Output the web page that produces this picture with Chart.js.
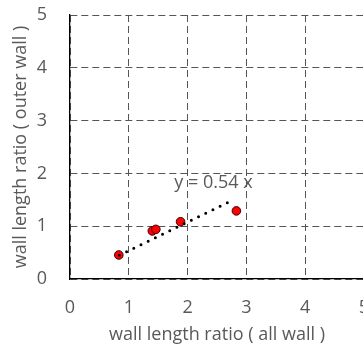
<!DOCTYPE html>
<html>
<head>
<meta charset="utf-8">
<script src="https://cdn.jsdelivr.net/npm/chart.js@4"></script>
<style>
  body { margin: 0; background: #fff; }
  #wrap { width: 363px; height: 349px; overflow: hidden; }
</style>
</head>
<body>
<div id="wrap"><canvas id="chart" width="380" height="349"></canvas></div>
<script>
// measured points (all wall ratio vs outer wall ratio)
const allWall = [0.83, 1.40, 1.46, 1.88, 2.83];
const outerWall = [0.455, 0.91, 0.94, 1.085, 1.29];

// trend line y = 0.54 x, read end points
const trendX = [0.84, 2.76];
const trendY = [0.45, 1.49];
const trendLabel = 'y = 0.54 x';
const labelAt = { x: 2.44, y: 1.82 };

const axisTicks = [0, 1, 2, 3, 4, 5];
const textColor = '#595959';
const fontFamily = '"Open Sans", Lato, sans-serif';
const fontSize = 18;

const points = allWall.map((x, i) => ({ x: x, y: outerWall[i] }));
const trend = trendX.map((x, i) => ({ x: x, y: trendY[i] }));

// draws the trend equation at a data position
const equationLabel = {
    id: 'equationLabel',
    afterDatasetsDraw(chart) {
        const ctx = chart.ctx;
        const px = chart.scales.x.getPixelForValue(labelAt.x);
        const py = chart.scales.y.getPixelForValue(labelAt.y);
        ctx.save();
        ctx.font = fontSize + 'px ' + fontFamily;
        ctx.fillStyle = textColor;
        ctx.textAlign = 'center';
        ctx.textBaseline = 'middle';
        ctx.fillText(trendLabel, px, py);
        ctx.restore();
    }
};

const ctx = document.getElementById('chart').getContext('2d');
window.wallChart = new Chart(ctx, {
    type: 'scatter',
    data: {
        datasets: [{
            type: 'line',
            label: 'trend',
            data: trend,
            borderColor: '#000',
            borderWidth: 3,
            borderDash: [0, 8],
            borderCapStyle: 'round',
            pointRadius: 0,
            fill: false
        }, {
            label: 'data',
            data: points,
            backgroundColor: '#ff0000',
            borderColor: '#3a0000',
            borderWidth: 1,
            pointRadius: 4.3
        }]
    },
    options: {
        responsive: false,
        animation: false,
        layout: {
            padding: { top: 15, right: 16, bottom: 0, left: 0 }
        },
        plugins: {
            legend: { display: false },
            tooltip: { enabled: false }
        },
        scales: {
            x: {
                type: 'linear',
                min: 0,
                max: 5,
                afterBuildTicks: (scale) => { scale.ticks = axisTicks.map(v => ({ value: v })); },
                afterFit: (scale) => { scale.height = 70; },
                ticks: {
                    color: textColor,
                    font: { family: fontFamily, size: fontSize },
                    padding: 0
                },
                grid: { color: '#555', lineWidth: 1, drawTicks: true, tickLength: 18, tickColor: 'rgba(0,0,0,0)' },
                border: { display: true, color: '#000', width: 1.3, dash: [7, 4] },
                title: {
                    display: true,
                    text: 'wall length ratio ( all wall )',
                    color: textColor,
                    font: { family: fontFamily, size: fontSize },
                    padding: { top: 0, bottom: 3 }
                }
            },
            y: {
                type: 'linear',
                min: 0,
                max: 5,
                afterBuildTicks: (scale) => { scale.ticks = axisTicks.map(v => ({ value: v })); },
                afterFit: (scale) => { scale.width = 70; },
                ticks: {
                    color: textColor,
                    font: { family: fontFamily, size: fontSize },
                    padding: 0
                },
                grid: { color: '#555', lineWidth: 1, drawTicks: true, tickLength: 23, tickColor: 'rgba(0,0,0,0)' },
                border: { display: true, color: '#000', width: 1.3, dash: [7, 4] },
                title: {
                    display: true,
                    text: 'wall length ratio ( outer wall )',
                    color: textColor,
                    font: { family: fontFamily, size: fontSize },
                    padding: { top: 10, bottom: 0 }
                }
            }
        }
    },
    plugins: [equationLabel]
});
</script>
</body>
</html>
